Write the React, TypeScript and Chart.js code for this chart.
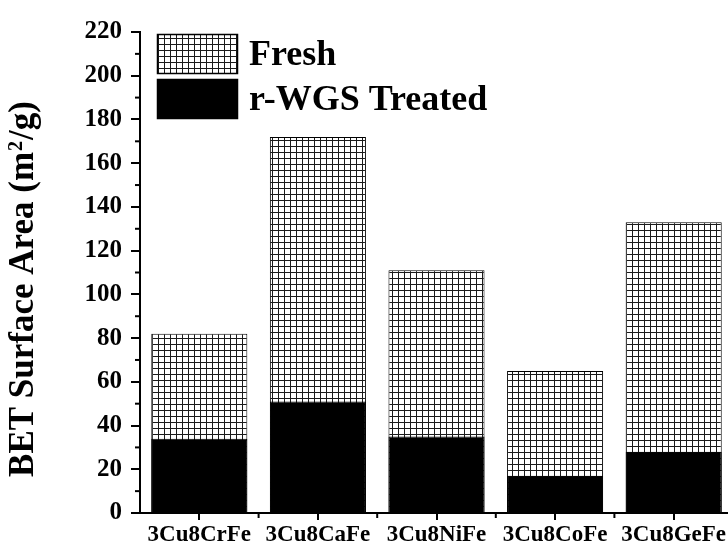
import React, { useEffect, useRef } from 'react';
import { Chart, registerables } from 'chart.js';

Chart.register(...registerables);

const categories = ['3Cu8CrFe', '3Cu8CaFe', '3Cu8NiFe', '3Cu8CoFe', '3Cu8GeFe'];
const freshValues = [82, 172, 111, 65, 133];
const treatedValues = [34, 51, 35, 17, 28];
const seriesLabels = ['Fresh', 'r-WGS Treated'];
const yMin = 0;
const yMax = 220;
const yStep = 20;
const yMinorStep = 10;
const titleParts = ['BET Surface Area (m', '2', '/g)'];

const FONT = "'Liberation Serif', 'Times New Roman', serif";

function makePattern(): CanvasPattern | string {
  const tile = document.createElement('canvas');
  tile.width = 6;
  tile.height = 6;
  const t = tile.getContext('2d');
  if (!t) return '#fff';
  t.fillStyle = '#fff';
  t.fillRect(0, 0, 6, 6);
  t.fillStyle = '#1a1a1a';
  t.fillRect(0, 0, 6, 1);
  t.fillRect(0, 0, 1, 6);
  const ctx = document.createElement('canvas').getContext('2d');
  return (ctx && ctx.createPattern(tile, 'repeat')) || '#fff';
}

const decorPlugin = {
  id: 'decor',
  afterDraw(chart: any) {
    const { ctx, chartArea, scales } = chart;
    const x = scales.x;
    const y = scales.y;
    ctx.save();
    // minor ticks
    ctx.strokeStyle = '#000';
    ctx.lineWidth = 2;
    for (let v = yMin + yMinorStep; v < yMax; v += yStep) {
      const py = y.getPixelForValue(v);
      ctx.beginPath();
      ctx.moveTo(chartArea.left - 5, py);
      ctx.lineTo(chartArea.left, py);
      ctx.stroke();
    }
    for (let i = 0; i < categories.length - 1; i++) {
      const px = x.getPixelForValue(i + 0.5);
      ctx.beginPath();
      ctx.moveTo(px, chartArea.bottom);
      ctx.lineTo(px, chartArea.bottom + 5);
      ctx.stroke();
    }

    // legend
    const ds = chart.data.datasets;
    const bx = chartArea.left + 17;
    const bw = 81;
    const bh = 40;
    const rows = [chartArea.top + 2, chartArea.top + 47];
    ds.forEach((d: any, i: number) => {
      const by = rows[i];
      ctx.fillStyle = d.backgroundColor;
      ctx.fillRect(bx, by, bw, bh);
      ctx.lineWidth = 1.5;
      ctx.strokeStyle = '#000';
      ctx.strokeRect(bx + 0.5, by + 0.5, bw - 1, bh - 1);
      ctx.fillStyle = '#000';
      ctx.font = `bold 36px ${FONT}`;
      ctx.textAlign = 'left';
      ctx.textBaseline = 'alphabetic';
      ctx.fillText(d.label, bx + 92, by + 31);
    });

    // y-axis title with superscript
    const cx = 25;
    const cy = 281;
    ctx.translate(cx, cy);
    ctx.rotate(-Math.PI / 2);
    const mainFont = `bold 35px ${FONT}`;
    const supFont = `bold 20px ${FONT}`;
    ctx.font = mainFont;
    const w1 = ctx.measureText(titleParts[0]).width;
    const w3 = ctx.measureText(titleParts[2]).width;
    ctx.font = supFont;
    const w2 = ctx.measureText(titleParts[1]).width;
    const total = w1 + w2 + w3 + 2;
    let sx = -total / 2;
    ctx.fillStyle = '#000';
    ctx.textAlign = 'left';
    ctx.textBaseline = 'alphabetic';
    ctx.font = mainFont;
    ctx.fillText(titleParts[0], sx, 0);
    sx += w1 + 1;
    ctx.font = supFont;
    ctx.fillText(titleParts[1], sx, -11);
    sx += w2 + 1;
    ctx.font = mainFont;
    ctx.fillText(titleParts[2], sx, 0);
    ctx.restore();
  },
};

export default function App() {
  const canvasRef = useRef<HTMLCanvasElement | null>(null);

  useEffect(() => {
    if (!canvasRef.current) return;
    const pattern = makePattern();
    const chart = new Chart(canvasRef.current, {
      type: 'bar',
      data: {
        labels: categories,
        datasets: [
          {
            label: seriesLabels[0],
            data: freshValues,
            backgroundColor: pattern as any,
            borderColor: '#000',
            borderWidth: 1,
            grouped: false,
            order: 2,
            barPercentage: 0.81,
            categoryPercentage: 1,
          } as any,
          {
            label: seriesLabels[1],
            data: treatedValues,
            backgroundColor: '#000',
            borderColor: '#000',
            borderWidth: 1,
            grouped: false,
            order: 1,
            barPercentage: 0.81,
            categoryPercentage: 1,
          } as any,
        ],
      },
      options: {
        responsive: false,
        animation: false,
        devicePixelRatio: 1,
        layout: { padding: { top: 22, right: 5, left: 0, bottom: 0 } },
        plugins: {
          legend: { display: false },
          tooltip: { enabled: false },
        },
        scales: {
          x: {
            grid: {
              display: true,
              drawOnChartArea: false,
              drawTicks: true,
              tickLength: 7,
              offset: false,
              color: '#000',
              lineWidth: 2,
            },
            border: { display: true, color: '#000', width: 2 },
            ticks: {
              color: '#000',
              font: { family: FONT, size: 23, weight: 'bold' },
              padding: 1,
              maxRotation: 0,
              autoSkip: false,
            },
            afterFit: (s: any) => {
              s.height = 34;
            },
          },
          y: {
            min: yMin,
            max: yMax,
            ticks: {
              stepSize: yStep,
              color: '#000',
              font: { family: FONT, size: 25, weight: 'bold' },
              padding: 9,
            },
            grid: {
              drawOnChartArea: false,
              drawTicks: true,
              tickLength: 9,
              color: '#000',
              lineWidth: 2,
            },
            border: { display: true, color: '#000', width: 2 },
            afterFit: (s: any) => {
              s.width = 132;
            },
          },
        },
      } as any,
      plugins: [decorPlugin],
    });
    return () => chart.destroy();
  }, []);

  return (
    <div
      style={{
        position: 'fixed',
        left: 8,
        top: 8,
        width: 720,
        height: 539,
        overflow: 'hidden',
        background: '#fff',
      }}
    >
      <canvas
        ref={canvasRef}
        width={730}
        height={539}
        style={{ width: 730, height: 539, display: 'block' }}
      />
    </div>
  );
}
